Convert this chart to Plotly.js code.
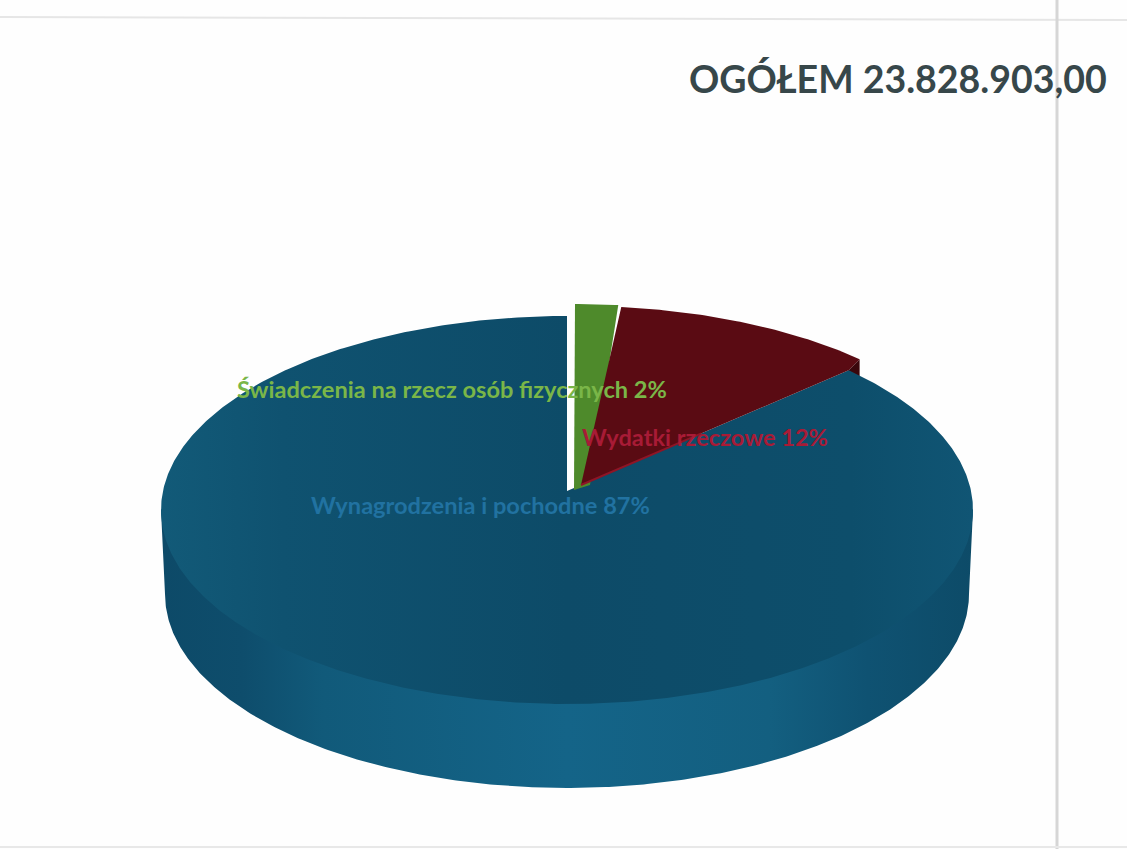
<!DOCTYPE html>
<html>
<head>
<meta charset="utf-8">
<script src="https://cdn.plot.ly/plotly-3.0.1.min.js"></script>
<style>html,body{margin:0;padding:0;background:#fefefe}#chart{width:1127px;height:849px}</style>
</head>
<body>
<div id="chart"></div>
<script>
// ---- data ----
const categories = ['Wynagrodzenia i pochodne', 'Wydatki rzeczowe', 'Świadczenia na rzecz osób fizycznych'];
const labelPercents = [87, 12, 2];
const drawnShares = [87.8, 10.5, 1.7];   // share of the circle as drawn
const totalText = 'OGÓŁEM 23.828.903,00';

// ---- geometry of the tilted disc (axis units = page pixels) ----
const disc = {cx: 567, cy: 510, rx: 406, ry: 194, depth: 84, baseRx: 402};
const greenShift = {cx: 575, cy: 494, ry: 190, ax: 574, ay: 490, ax2: 590, ay2: 485};
const redShift = {cx: 578, cy: 496, ry: 190, ax: 581, ay: 485};
const blueApex = {ax: 567, ay: 491};

const deg = Math.PI / 180;
function arc(g, from, to) {
  const xs = [], ys = [];
  const n = Math.max(2, Math.ceil(Math.abs(to - from) * 2));
  for (let i = 0; i <= n; i++) {
    const t = (from + (to - from) * i / n) * deg;
    xs.push(g.cx + g.rx * Math.sin(t));
    ys.push(g.cy - g.ry * Math.cos(t));
  }
  return {xs, ys};
}
function wedge(g, apex, from, to) {
  const a = arc(g, from, to);
  return {x: [apex.ax, ...a.xs, apex.ax], y: [apex.ay, ...a.ys, apex.ay]};
}

const greenEnd = drawnShares[2] * 3.6;
const redEnd = greenEnd + drawnShares[1] * 3.6;

const topG = disc;
const baseG = {cx: disc.cx, cy: disc.cy + disc.depth, rx: disc.baseRx, ry: disc.ry};
const innerG = {cx: disc.cx, cy: disc.cy - 4, rx: disc.rx - 3, ry: disc.ry};
const redG = {cx: redShift.cx, cy: redShift.cy, rx: disc.rx, ry: redShift.ry};
const greenG = {cx: greenShift.cx, cy: greenShift.cy, rx: disc.rx, ry: greenShift.ry};

const sideInner = arc(innerG, 90, 270);
const sideBase = arc(baseG, 270, 90);
const leftPt = arc(topG, 270, 270), rightPt = arc(topG, 90, 90);
const side = {
  x: [...sideInner.xs, leftPt.xs[0], ...sideBase.xs, rightPt.xs[0], sideInner.xs[0]],
  y: [...sideInner.ys, leftPt.ys[0], ...sideBase.ys, rightPt.ys[0], sideInner.ys[0]]
};

const blueTop = wedge(topG, blueApex, redEnd, 360);
const greenArc = arc(greenG, 0, greenEnd);
const greenTop = {
  x: [greenShift.ax, ...greenArc.xs, greenShift.ax2, greenShift.ax],
  y: [greenShift.ay, ...greenArc.ys, greenShift.ay2, greenShift.ay]
};

const redArc = arc(redG, greenEnd, redEnd);
const tipX = redArc.xs[redArc.xs.length - 1], tipY = redArc.ys[redArc.ys.length - 1];
const blueTip = arc(topG, redEnd, redEnd);
const redTop = {
  x: [redShift.ax, ...redArc.xs, blueTip.xs[0], redShift.ax],
  y: [redShift.ay, ...redArc.ys, blueTip.ys[0], redShift.ay]
};
const redWall = {
  x: [blueTip.xs[0], tipX, tipX, blueTip.xs[0], blueTip.xs[0]],
  y: [blueTip.ys[0], tipY, tipY + disc.depth, blueTip.ys[0] + disc.depth, blueTip.ys[0]]
};

const frac = 0.45;
const stripe = {
  x: [redShift.ax, redShift.ax + (blueTip.xs[0] - redShift.ax) * frac],
  y: [redShift.ay, redShift.ay + (blueTip.ys[0] - redShift.ay) * frac]
};

function poly(p, color, gradient) {
  const tr = {type: 'scatter', mode: 'lines', x: p.x, y: p.y, fill: 'toself', line: {width: 0, color: color},
    fillcolor: color, hoverinfo: 'skip', showlegend: false};
  if (gradient) tr.fillgradient = {type: 'horizontal', colorscale: gradient};
  return tr;
}

const traces = [
  poly(side, '#146288', [[0, '#0d4a68'], [0.1, '#0e4d6c'], [0.2, '#115a7a'], [0.5, '#146488'], [0.75, '#135f80'], [0.87, '#0f5272'], [1, '#0d4b68']]),
  poly(redWall, '#3a070c'),
  poly(blueTop, '#0e4d6c', [[0, '#125a78'], [0.15, '#0f5270'], [0.5, '#0d4b68'], [0.85, '#0d4e6b'], [1, '#105574']]),
  poly(greenTop, '#4e8a2b'),
  poly(redTop, '#5a0b13'),
  {type: 'scatter', mode: 'lines', x: stripe.x, y: stripe.y, line: {color: '#8e1526', width: 2}, hoverinfo: 'skip', showlegend: false}
];

const labelFont = {family: 'Lato, sans-serif', size: 23.6, weight: 700};
function sliceLabel(i, x, y, color) {
  return {text: categories[i] + ' ' + labelPercents[i] + '%', x, y, xref: 'x', yref: 'y', xanchor: 'left', yanchor: 'middle',
    showarrow: false, font: Object.assign({}, labelFont, {color})};
}

const layout = {
  width: 1127, height: 849, margin: {l: 0, r: 0, t: 0, b: 0},
  paper_bgcolor: '#fefefe', plot_bgcolor: 'rgba(0,0,0,0)', showlegend: false,
  xaxis: {range: [0, 1127], visible: false, fixedrange: true},
  yaxis: {range: [849, 0], visible: false, fixedrange: true},
  shapes: [
    {type: 'line', x0: 0, x1: 1127, y0: 17, y1: 20, line: {color: '#e6e6e6', width: 2}, layer: 'below'},
    {type: 'line', x0: 1057, x1: 1057, y0: 0, y1: 849, line: {color: '#d6d6d6', width: 3}, layer: 'below'},
    {type: 'line', x0: 0, x1: 1127, y0: 847, y1: 847, line: {color: '#e8e8e8', width: 2}, layer: 'below'}
  ],
  annotations: [
    {text: totalText, x: 687, y: 78, xref: 'x', yref: 'y', xanchor: 'left', yanchor: 'middle', showarrow: false,
     font: {family: 'Lato, sans-serif', size: 37.5, weight: 700, color: '#37474a'}},
    sliceLabel(2, 235, 389, '#7ab648'),
    sliceLabel(1, 580, 437, '#a81b36'),
    sliceLabel(0, 309, 505, '#2172a1')
  ]
};
Plotly.newPlot('chart', traces, layout, {displayModeBar: false, staticPlot: true});
</script>
</body>
</html>
